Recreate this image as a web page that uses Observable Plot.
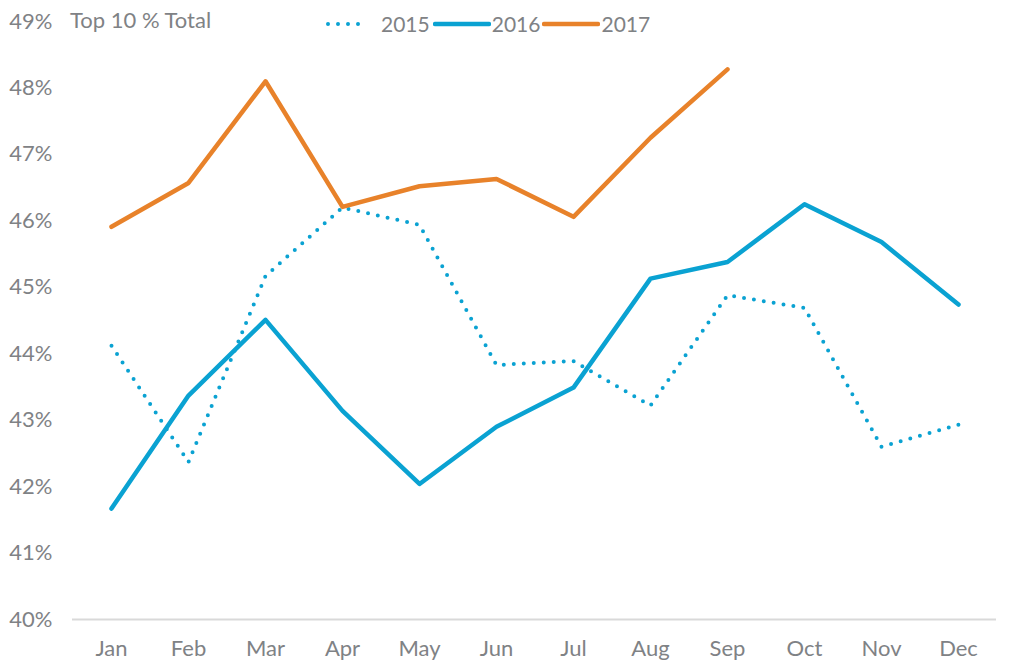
<!DOCTYPE html>
<html>
<head>
<meta charset="utf-8">
<script src="https://cdn.jsdelivr.net/npm/d3@7"></script>
<script src="https://cdn.jsdelivr.net/npm/@observablehq/plot@0.6"></script>
<style>
  html, body { margin: 0; padding: 0; background: #fff; }
  #wrap { position: relative; width: 1016px; height: 670px; font-family: Lato, "Open Sans", sans-serif; color: #7f8285; }
  #title { position: absolute; left: 70px; top: 6px; font-size: 22px; }
  #legend { position: absolute; left: 324px; top: 11px; font-size: 21px; display: flex; align-items: center; }
  #legend span { display: inline-flex; align-items: center; }
  #legend svg { display: block; }
</style>
</head>
<body>
<div id="wrap">
  <div id="chart"></div>
  <div id="title">Top 10 % Total</div>
  <div id="legend"></div>
</div>
<script>
const months = ["Jan","Feb","Mar","Apr","May","Jun","Jul","Aug","Sep","Oct","Nov","Dec"];
const years = ["2015","2016","2017"];
const y2015 = [44.12, 42.37, 45.17, 46.2, 45.94, 43.83, 43.89, 43.22, 44.88, 44.69, 42.6, 42.93];
const y2016 = [41.67, 43.37, 44.51, 43.14, 42.04, 42.9, 43.49, 45.13, 45.38, 46.25, 45.68, 44.74];
const y2017 = [45.91, 46.57, 48.1, 46.21, 46.52, 46.63, 46.06, 47.25, 48.28];
const yTicks = [40, 41, 42, 43, 44, 45, 46, 47, 48, 49];
const colors = { "2015": "#0aa2d2", "2016": "#0aa2d2", "2017": "#e8822a" };

const toRows = (vals, year) => vals.map((v, i) => ({ month: months[i], value: v, year }));
const d15 = toRows(y2015, "2015");
const d16 = toRows(y2016, "2016");
const d17 = toRows(y2017, "2017");

const chart = Plot.plot({
  width: 1016,
  height: 670,
  marginTop: 21,
  marginBottom: 51,
  marginLeft: 72,
  marginRight: 20,
  style: { fontFamily: "Lato, 'Open Sans', sans-serif", fontSize: "22px", color: "#7f8285", background: "#fff" },
  x: { type: "point", domain: months, padding: 0.5, label: null, tickSize: 0, tickPadding: 21 },
  y: { domain: [40, 49], ticks: yTicks, tickFormat: d => d + "%", label: null, tickSize: 0, tickPadding: 20 },
  marks: [
    Plot.ruleY([40], { stroke: "#d9d9d9", strokeWidth: 2 }),
    Plot.line(d15, { x: "month", y: "value", stroke: colors["2015"], strokeWidth: 4, strokeDasharray: "0 10", strokeLinecap: "round" }),
    Plot.line(d16, { x: "month", y: "value", stroke: colors["2016"], strokeWidth: 4.5 }),
    Plot.line(d17, { x: "month", y: "value", stroke: colors["2017"], strokeWidth: 4.5 })
  ]
});
document.getElementById("chart").appendChild(chart);

// legend
const legend = document.getElementById("legend");
years.forEach((yr, i) => {
  const span = document.createElement("span");
  const dotted = yr === "2015";
  const w = dotted ? 48 : 58;
  span.innerHTML = `<svg width="${w}" height="10"><line x1="${dotted ? 4 : 2}" x2="${dotted ? 44 : 56}" y1="5" y2="5" stroke="${colors[yr]}" stroke-width="${dotted ? 4 : 4.5}" stroke-linecap="round" ${dotted ? 'stroke-dasharray="0 10"' : ''}/></svg><span style="margin:0 ${dotted ? 3 : 2}px 0 ${dotted ? 9 : 1}px">${yr}</span>`;
  legend.appendChild(span);
});
</script>
</body>
</html>
